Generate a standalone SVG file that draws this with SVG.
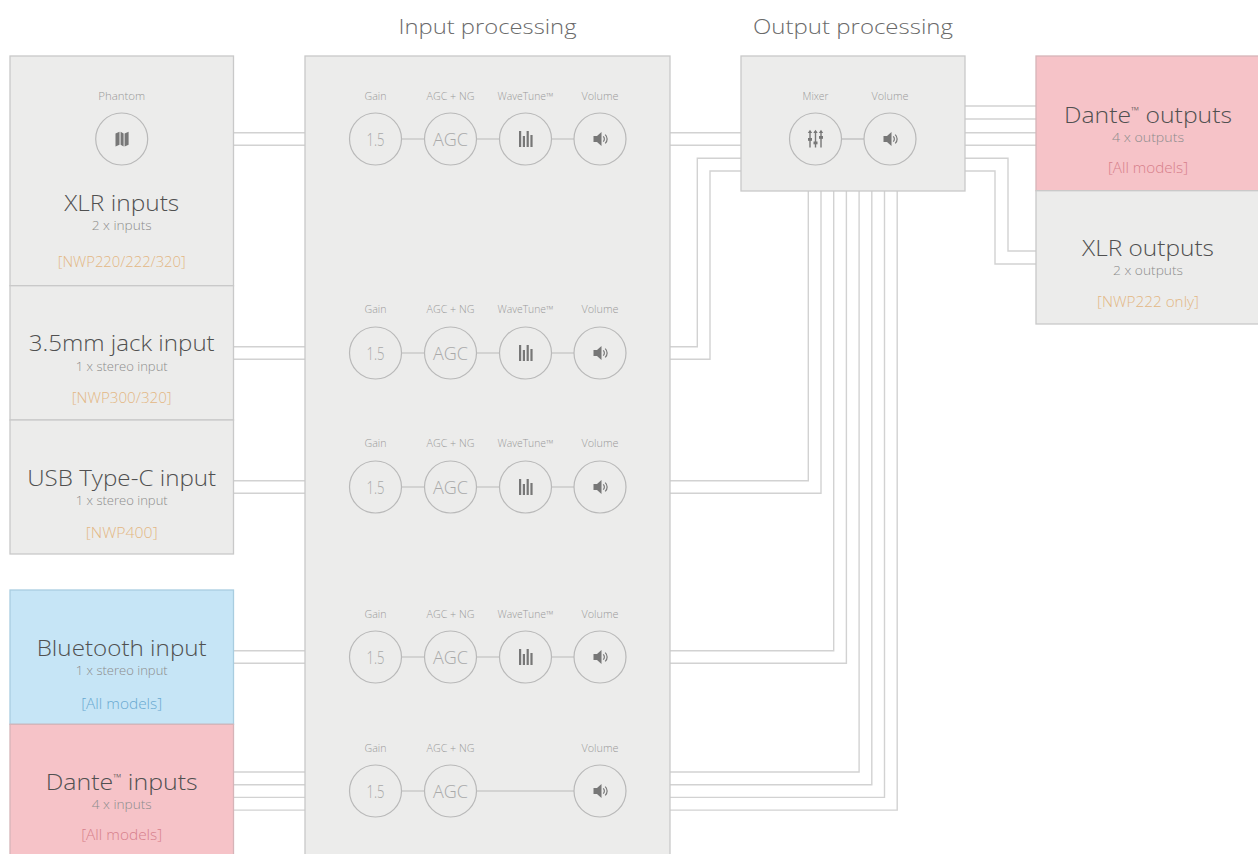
<svg xmlns="http://www.w3.org/2000/svg" width="1258" height="854" viewBox="0 0 1258 854">
<style>
text{font-family:"Open Sans","Liberation Sans",sans-serif;font-weight:300;text-anchor:middle}
.box{fill:#ececeb;stroke:#c9c9c9;stroke-width:1.3}
.pink{fill:#f6c3c8;stroke:#d6b4b8;stroke-width:1.3}
.blue{fill:#c6e5f6;stroke:#a9cde0;stroke-width:1.3}
.title{font-size:20px;fill:#6a6a6a}
.big{font-size:22px;fill:#505050}
.sub{font-size:12px;fill:#8c8c8c}
.model{font-size:14px;fill:#e3b784}
.mpink{font-size:14px;fill:#d77f8b}
.mblue{font-size:14px;fill:#68a9d1}
.lbl{font-size:10px;fill:#9a9a9a}
.ct{font-size:18px;fill:#a9a9a9}
.circ{fill:none;stroke:#b9b9b9;stroke-width:1.2}
.link{fill:none;stroke:#b9b9b9;stroke-width:1.2}
.wire{fill:none;stroke:#d2d2d2;stroke-width:1.4}
.icon{fill:#777}
</style>
<defs>
<g id="spk"><path class="icon" d="M-6.5,-3 h3.5 l4.5,-4 v14 l-4.5,-4 h-3.5 z"/><path d="M3.2,-2.6 a3.5,3.5 0 0 1 0,5.2 M5.2,-4.4 a6,6 0 0 1 0,8.8" fill="none" stroke="#777" stroke-width="1.2"/></g>
<g id="bars"><rect class="icon" x="-6.5" y="-8" width="2.2" height="16"/><rect class="icon" x="-2.7" y="-3" width="2.2" height="11"/><rect class="icon" x="1.1" y="-8" width="2.2" height="16"/><rect class="icon" x="4.9" y="-4" width="2.2" height="12"/></g>
</defs>

<text class="title" x="487.5" y="33.5" textLength="178" lengthAdjust="spacingAndGlyphs">Input processing</text>
<text class="title" x="853" y="33.5" textLength="200" lengthAdjust="spacingAndGlyphs">Output processing</text>

<g id="connectors">
<path class="wire" d="M233.5,132.7 H305 M233.5,145.3 H305"/>
<path class="wire" d="M233.5,346.7 H305 M233.5,359.3 H305"/>
<path class="wire" d="M233.5,480.7 H305 M233.5,493.3 H305"/>
<path class="wire" d="M233.5,650.7 H305 M233.5,663.3 H305"/>
<path class="wire" d="M233.5,772 H305 M233.5,784.7 H305 M233.5,797.4 H305 M233.5,810.1 H305"/>
<path class="wire" d="M670,132.7 H741 M670,145.3 H741"/>
<path class="wire" d="M670,346.7 H697.3 V158.3 H741 M670,359.3 H710 V171 H741"/>
<path class="wire" d="M670,480.7 H808.3 V191 M670,493.3 H821 V191"/>
<path class="wire" d="M670,650.7 H833.7 V191 M670,663.3 H846.4 V191"/>
<path class="wire" d="M670,772 H859.1 V191 M670,784.7 H871.8 V191 M670,797.4 H884.5 V191 M670,810.1 H897.2 V191"/>
<path class="wire" d="M965,106 H1036 M965,119 H1036 M965,132.7 H1036 M965,145.3 H1036"/>
<path class="wire" d="M965,158.3 H1008 V251 H1036 M965,171 H995 V264 H1036"/>
</g>

<g id="xlr-inputs">
<rect class="box" x="10" y="56" width="223.5" height="229.7"/>
<text class="lbl" x="121.7" y="99.5" textLength="47" lengthAdjust="spacingAndGlyphs">Phantom</text>
<circle class="circ" cx="121.7" cy="139" r="26"/>
<path class="icon" d="M115.5,133.5 l4,-1.8 v13 l-4,1.8 z M120.6,131.7 l3,1.8 v13 l-3,-1.8 z M124.6,133.5 l4,-1.8 v13 l-4,1.8 z"/>
<text class="big" x="121.7" y="210.5" textLength="115" lengthAdjust="spacingAndGlyphs">XLR inputs</text>
<text class="sub" x="121.7" y="229.5" textLength="60" lengthAdjust="spacingAndGlyphs">2 x inputs</text>
<text class="model" x="121.7" y="267" textLength="128" lengthAdjust="spacingAndGlyphs">[NWP220/222/320]</text>
</g>

<g id="jack-input">
<rect class="box" x="10" y="285.7" width="223.5" height="134.3"/>
<text class="big" x="121.7" y="351" textLength="186" lengthAdjust="spacingAndGlyphs">3.5mm jack input</text>
<text class="sub" x="121.7" y="370.5" textLength="92" lengthAdjust="spacingAndGlyphs">1 x stereo input</text>
<text class="model" x="121.7" y="403" textLength="100" lengthAdjust="spacingAndGlyphs">[NWP300/320]</text>
</g>

<g id="usb-input">
<rect class="box" x="10" y="420" width="223.5" height="134"/>
<text class="big" x="121.7" y="485.5" textLength="189" lengthAdjust="spacingAndGlyphs">USB Type-C input</text>
<text class="sub" x="121.7" y="504.5" textLength="92" lengthAdjust="spacingAndGlyphs">1 x stereo input</text>
<text class="model" x="121.7" y="538" textLength="72" lengthAdjust="spacingAndGlyphs">[NWP400]</text>
</g>

<g id="bluetooth-input">
<rect class="blue" x="10" y="590" width="223.5" height="134.3"/>
<text class="big" x="121.7" y="656" textLength="170" lengthAdjust="spacingAndGlyphs">Bluetooth input</text>
<text class="sub" x="121.7" y="675" textLength="92" lengthAdjust="spacingAndGlyphs">1 x stereo input</text>
<text class="mblue" x="121.7" y="709" textLength="81" lengthAdjust="spacingAndGlyphs">[All models]</text>
</g>

<g id="dante-inputs">
<rect class="pink" x="10" y="724.3" width="223.5" height="140"/>
<text class="big" x="121.7" y="789.5" textLength="152" lengthAdjust="spacingAndGlyphs">Dante<tspan font-size="10" dy="-9">™</tspan><tspan dy="9"> inputs</tspan></text>
<text class="sub" x="121.7" y="809" textLength="60" lengthAdjust="spacingAndGlyphs">4 x inputs</text>
<text class="mpink" x="121.7" y="840" textLength="81" lengthAdjust="spacingAndGlyphs">[All models]</text>
</g>

<g id="input-processing">
<rect class="box" x="305" y="56" width="365" height="810"/>
<g>
<text class="lbl" x="375.5" y="99.5" textLength="22" lengthAdjust="spacingAndGlyphs">Gain</text>
<text class="lbl" x="450.5" y="99.5" textLength="48" lengthAdjust="spacingAndGlyphs">AGC + NG</text>
<text class="lbl" x="525.5" y="99.5" textLength="56" lengthAdjust="spacingAndGlyphs">WaveTune™</text>
<text class="lbl" x="600" y="99.5" textLength="37" lengthAdjust="spacingAndGlyphs">Volume</text>
<path class="link" d="M401.5,139 H424.5 M476.5,139 H499.5 M551.5,139 H574"/>
<circle class="circ" cx="375.5" cy="139" r="26"/><circle class="circ" cx="450.5" cy="139" r="26"/><circle class="circ" cx="525.5" cy="139" r="26"/><circle class="circ" cx="600" cy="139" r="26"/>
<text class="ct" x="375.5" y="145.5" textLength="18" lengthAdjust="spacingAndGlyphs">1.5</text>
<text class="ct" x="450.5" y="145.5" textLength="35" lengthAdjust="spacingAndGlyphs">AGC</text>
<use href="#bars" x="525.5" y="139"/>
<use href="#spk" x="600" y="139"/>
</g>
<g>
<text class="lbl" x="375.5" y="313" textLength="22" lengthAdjust="spacingAndGlyphs">Gain</text>
<text class="lbl" x="450.5" y="313" textLength="48" lengthAdjust="spacingAndGlyphs">AGC + NG</text>
<text class="lbl" x="525.5" y="313" textLength="56" lengthAdjust="spacingAndGlyphs">WaveTune™</text>
<text class="lbl" x="600" y="313" textLength="37" lengthAdjust="spacingAndGlyphs">Volume</text>
<path class="link" d="M401.5,353 H424.5 M476.5,353 H499.5 M551.5,353 H574"/>
<circle class="circ" cx="375.5" cy="353" r="26"/><circle class="circ" cx="450.5" cy="353" r="26"/><circle class="circ" cx="525.5" cy="353" r="26"/><circle class="circ" cx="600" cy="353" r="26"/>
<text class="ct" x="375.5" y="359.5" textLength="18" lengthAdjust="spacingAndGlyphs">1.5</text>
<text class="ct" x="450.5" y="359.5" textLength="35" lengthAdjust="spacingAndGlyphs">AGC</text>
<use href="#bars" x="525.5" y="353"/>
<use href="#spk" x="600" y="353"/>
</g>
<g>
<text class="lbl" x="375.5" y="447" textLength="22" lengthAdjust="spacingAndGlyphs">Gain</text>
<text class="lbl" x="450.5" y="447" textLength="48" lengthAdjust="spacingAndGlyphs">AGC + NG</text>
<text class="lbl" x="525.5" y="447" textLength="56" lengthAdjust="spacingAndGlyphs">WaveTune™</text>
<text class="lbl" x="600" y="447" textLength="37" lengthAdjust="spacingAndGlyphs">Volume</text>
<path class="link" d="M401.5,487 H424.5 M476.5,487 H499.5 M551.5,487 H574"/>
<circle class="circ" cx="375.5" cy="487" r="26"/><circle class="circ" cx="450.5" cy="487" r="26"/><circle class="circ" cx="525.5" cy="487" r="26"/><circle class="circ" cx="600" cy="487" r="26"/>
<text class="ct" x="375.5" y="493.5" textLength="18" lengthAdjust="spacingAndGlyphs">1.5</text>
<text class="ct" x="450.5" y="493.5" textLength="35" lengthAdjust="spacingAndGlyphs">AGC</text>
<use href="#bars" x="525.5" y="487"/>
<use href="#spk" x="600" y="487"/>
</g>
<g>
<text class="lbl" x="375.5" y="618" textLength="22" lengthAdjust="spacingAndGlyphs">Gain</text>
<text class="lbl" x="450.5" y="618" textLength="48" lengthAdjust="spacingAndGlyphs">AGC + NG</text>
<text class="lbl" x="525.5" y="618" textLength="56" lengthAdjust="spacingAndGlyphs">WaveTune™</text>
<text class="lbl" x="600" y="618" textLength="37" lengthAdjust="spacingAndGlyphs">Volume</text>
<path class="link" d="M401.5,657 H424.5 M476.5,657 H499.5 M551.5,657 H574"/>
<circle class="circ" cx="375.5" cy="657" r="26"/><circle class="circ" cx="450.5" cy="657" r="26"/><circle class="circ" cx="525.5" cy="657" r="26"/><circle class="circ" cx="600" cy="657" r="26"/>
<text class="ct" x="375.5" y="663.5" textLength="18" lengthAdjust="spacingAndGlyphs">1.5</text>
<text class="ct" x="450.5" y="663.5" textLength="35" lengthAdjust="spacingAndGlyphs">AGC</text>
<use href="#bars" x="525.5" y="657"/>
<use href="#spk" x="600" y="657"/>
</g>
<g>
<text class="lbl" x="375.5" y="751.5" textLength="22" lengthAdjust="spacingAndGlyphs">Gain</text>
<text class="lbl" x="450.5" y="751.5" textLength="48" lengthAdjust="spacingAndGlyphs">AGC + NG</text>
<text class="lbl" x="600" y="751.5" textLength="37" lengthAdjust="spacingAndGlyphs">Volume</text>
<path class="link" d="M401.5,791 H424.5 M476.5,791 H574"/>
<circle class="circ" cx="375.5" cy="791" r="26"/><circle class="circ" cx="450.5" cy="791" r="26"/><circle class="circ" cx="600" cy="791" r="26"/>
<text class="ct" x="375.5" y="797.5" textLength="18" lengthAdjust="spacingAndGlyphs">1.5</text>
<text class="ct" x="450.5" y="797.5" textLength="35" lengthAdjust="spacingAndGlyphs">AGC</text>
<use href="#spk" x="600" y="791"/>
</g>
</g>

<g id="output-processing">
<rect class="box" x="741" y="56" width="224" height="135"/>
<text class="lbl" x="815.5" y="99.5" textLength="26" lengthAdjust="spacingAndGlyphs">Mixer</text>
<text class="lbl" x="890" y="99.5" textLength="37" lengthAdjust="spacingAndGlyphs">Volume</text>
<path class="link" d="M841.5,139 H864"/>
<circle class="circ" cx="815.5" cy="139" r="26"/><circle class="circ" cx="890" cy="139" r="26"/>
<g fill="none" stroke="#777" stroke-width="1.4">
<path d="M810,131 V147.5 M815.5,131 V147.5 M821,131 V147.5"/>
</g>
<g class="icon">
<path d="M807.8,133 l2.2,-3.2 l2.2,3.2 z M813.3,133 l2.2,-3.2 l2.2,3.2 z M818.8,133 l2.2,-3.2 l2.2,3.2 z"/>
<rect x="808" y="138" width="4" height="2.8"/><rect x="813.5" y="141.5" width="4" height="2.8"/><rect x="819" y="136" width="4" height="2.8"/>
</g>
<use href="#spk" x="890" y="139"/>
</g>

<g id="dante-outputs">
<rect class="pink" x="1036" y="56" width="230" height="134.7"/>
<text class="big" x="1148" y="123" textLength="168" lengthAdjust="spacingAndGlyphs">Dante<tspan font-size="10" dy="-9">™</tspan><tspan dy="9"> outputs</tspan></text>
<text class="sub" x="1148" y="141.5" textLength="72" lengthAdjust="spacingAndGlyphs">4 x outputs</text>
<text class="mpink" x="1148" y="172.5" textLength="80" lengthAdjust="spacingAndGlyphs">[All models]</text>
</g>

<g id="xlr-outputs">
<rect class="box" x="1036" y="190.7" width="230" height="133.3"/>
<text class="big" x="1148" y="256" textLength="132" lengthAdjust="spacingAndGlyphs">XLR outputs</text>
<text class="sub" x="1148" y="274.5" textLength="70" lengthAdjust="spacingAndGlyphs">2 x outputs</text>
<text class="model" x="1148" y="307" textLength="102" lengthAdjust="spacingAndGlyphs">[NWP222 only]</text>
</g>
</svg>
